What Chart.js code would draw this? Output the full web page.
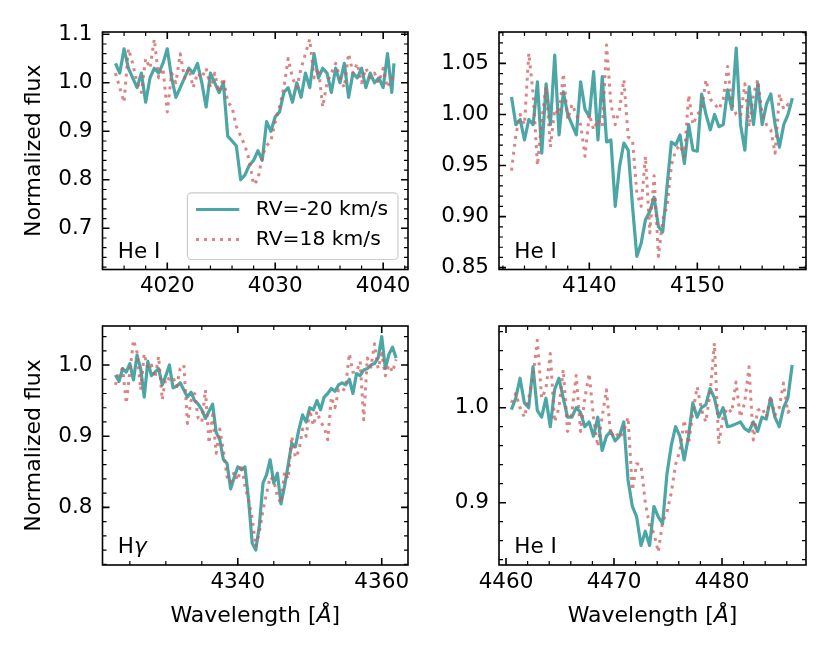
<!DOCTYPE html>
<html>
<head>
<meta charset="utf-8">
<title>He I / Hgamma line profiles</title>
<script src="https://cdn.jsdelivr.net/npm/chart.js@4.4.0/dist/chart.umd.min.js"></script>
<style>
  html, body { margin: 0; padding: 0; background: #fff; }
  #wrap { position: relative; width: 830px; height: 664px; }
  #wrap canvas { position: absolute; left: 0; top: 0; pointer-events: none; }
</style>
</head>
<body>
<div id="wrap">
  <canvas id="p1" width="830" height="664"></canvas>
  <canvas id="p2" width="830" height="664"></canvas>
  <canvas id="p3" width="830" height="664"></canvas>
  <canvas id="p4" width="830" height="664"></canvas>
</div>
<script>
// series labels
const labelBlue = 'RV=-20 km/s';
const labelRed = 'RV=18 km/s';

// ---- He I 4026
const wave1 = [4015.2, 4015.6, 4016.0, 4016.4, 4016.8, 4017.2, 4017.6, 4018.0, 4018.4, 4018.8,
  4019.2, 4019.6, 4020.0, 4020.4, 4020.8, 4021.2, 4021.6, 4022.0, 4022.4, 4022.8,
  4023.2, 4023.6, 4024.0, 4024.4, 4024.8, 4025.2, 4025.6, 4026.0, 4026.4, 4026.8,
  4027.2, 4027.6, 4028.0, 4028.4, 4028.8, 4029.2, 4029.6, 4030.0, 4030.4, 4030.8,
  4031.2, 4031.6, 4032.0, 4032.4, 4032.8, 4033.2, 4033.6, 4034.0, 4034.4, 4034.8,
  4035.2, 4035.6, 4036.0, 4036.4, 4036.8, 4037.2, 4037.6, 4038.0, 4038.4, 4038.8,
  4039.2, 4039.6, 4040.0, 4040.4, 4040.8, 4041.0];
const blue1 = [1.04, 1.02, 1.07, 1.03, 1.01, 0.99, 1.02, 0.96, 1.01, 1.03,
  1.02, 1.04, 1.07, 1.01, 0.97, 0.99, 1.01, 1.03, 1.02, 1.04,
  1.00, 0.95, 1.02, 1.00, 0.98, 1.00, 0.89, 0.88, 0.87, 0.80,
  0.81, 0.83, 0.84, 0.86, 0.84, 0.92, 0.90, 0.93, 0.94, 0.98,
  0.99, 0.96, 1.00, 0.97, 1.02, 0.99, 1.06, 1.01, 1.03, 1.02,
  0.98, 1.03, 1.00, 1.04, 0.97, 1.02, 1.01, 1.03, 0.99, 1.02,
  1.00, 1.01, 0.99, 1.06, 0.98, 1.04];
const red1 = [1.02, 0.99, 0.96, 1.07, 1.04, 1.00, 0.98, 1.05, 1.03, 1.09,
  1.01, 1.03, 0.94, 1.02, 1.00, 1.06, 1.01, 1.03, 0.99, 1.02,
  1.01, 1.03, 0.99, 1.02, 0.98, 1.01, 0.96, 0.95, 0.91, 0.89,
  0.87, 0.84, 0.79, 0.80, 0.85, 0.87, 0.88, 0.92, 0.95, 0.99,
  1.05, 1.01, 0.99, 1.03, 1.06, 1.09, 1.01, 1.03, 0.95, 1.00,
  1.02, 1.04, 1.01, 0.99, 1.06, 1.02, 1.04, 1.00, 1.03, 1.01,
  1.02, 1.00, 1.03, 0.99, 1.01, 1.00];
const xTicks1 = [4020, 4030, 4040];
const yTicks1 = [0.7, 0.8, 0.9, 1.0, 1.1];

// ---- He I 4144
const wave2 = [4132.8, 4133.2, 4133.6, 4134.0, 4134.4, 4134.8, 4135.2, 4135.6, 4136.0, 4136.4,
  4136.8, 4137.2, 4137.6, 4138.0, 4138.4, 4138.8, 4139.2, 4139.6, 4140.0, 4140.4,
  4140.8, 4141.2, 4141.6, 4142.0, 4142.4, 4142.8, 4143.2, 4143.6, 4144.0, 4144.4,
  4144.8, 4145.2, 4145.6, 4146.0, 4146.4, 4146.8, 4147.2, 4147.6, 4148.0, 4148.4,
  4148.8, 4149.2, 4149.6, 4150.0, 4150.4, 4150.8, 4151.2, 4151.6, 4152.0, 4152.4,
  4152.8, 4153.2, 4153.6, 4154.0, 4154.4, 4154.8, 4155.2, 4155.6, 4156.0, 4156.4,
  4156.8, 4157.2, 4157.6, 4158.0, 4158.4, 4158.8];
const blue2 = [1.017, 0.99, 0.995, 0.975, 0.995, 0.99, 1.032, 0.962, 1.03, 0.99,
  1.058, 0.98, 1.022, 1.0, 0.99, 0.98, 1.032, 1.005, 0.998, 1.042,
  0.975, 1.037, 0.973, 0.975, 0.91, 0.949, 0.972, 0.965, 0.91, 0.861,
  0.874, 0.897, 0.905, 0.919, 0.89, 0.885, 0.93, 0.973, 0.97, 0.98,
  0.952, 0.99, 0.965, 0.964, 1.02, 1.0, 0.985, 1.0, 0.988, 0.99,
  1.024, 1.005, 1.065, 0.99, 0.965, 1.027, 0.99, 1.03, 0.99, 1.01,
  1.02, 0.99, 0.968, 0.99, 1.0, 1.016];
const red2 = [0.945, 0.98, 1.0, 0.99, 1.06, 1.02, 0.95, 0.995, 1.027, 0.968,
  1.005, 1.0, 1.04, 0.995, 1.01, 1.0, 0.99, 0.959, 1.0, 0.985,
  0.995, 0.988, 1.068, 1.01, 0.99, 1.005, 1.034, 0.978, 0.975, 0.923,
  0.91, 0.959, 0.884, 0.94, 0.861, 0.897, 0.91, 0.95, 0.965, 0.97,
  0.959, 1.019, 0.99, 1.0, 1.005, 1.034, 1.015, 1.01, 1.005, 1.015,
  1.047, 1.01, 1.0, 0.998, 1.03, 0.988, 1.02, 1.034, 1.0, 0.99,
  0.985, 0.962, 1.02, 1.005, 1.01, 1.01];
const xTicks2 = [4140, 4150];
const yTicks2 = [0.85, 0.90, 0.95, 1.00, 1.05];

// ---- H gamma
const wave3 = [4323.0, 4323.5, 4324.0, 4324.5, 4325.0, 4325.5, 4326.0, 4326.5, 4327.0, 4327.5,
  4328.0, 4328.5, 4329.0, 4329.5, 4330.0, 4330.5, 4331.0, 4331.5, 4332.0, 4332.5,
  4333.0, 4333.5, 4334.0, 4334.5, 4335.0, 4335.5, 4336.0, 4336.5, 4337.0, 4337.5,
  4338.0, 4338.5, 4339.0, 4339.5, 4340.0, 4340.5, 4341.0, 4341.5, 4342.0, 4342.5,
  4343.0, 4343.5, 4344.0, 4344.5, 4345.0, 4345.5, 4346.0, 4346.5, 4347.0, 4347.5,
  4348.0, 4348.5, 4349.0, 4349.5, 4350.0, 4350.5, 4351.0, 4351.5, 4352.0, 4352.5,
  4353.0, 4353.5, 4354.0, 4354.5, 4355.0, 4355.5, 4356.0, 4356.5, 4357.0, 4357.5,
  4358.0, 4358.5, 4359.0, 4359.5, 4360.0, 4360.5, 4361.0, 4361.5, 4362.0];
const blue3 = [0.986, 0.977, 0.995, 0.99, 1.002, 0.979, 1.014, 0.995, 0.955, 1.005,
  0.985, 0.99, 0.995, 0.972, 0.985, 1.0, 0.968, 0.97, 0.975, 0.965,
  0.955, 0.962, 0.95, 0.945, 0.937, 0.925, 0.935, 0.945, 0.905, 0.895,
  0.867, 0.862, 0.826, 0.842, 0.857, 0.853, 0.857, 0.81, 0.75, 0.74,
  0.775, 0.834, 0.846, 0.867, 0.834, 0.848, 0.805, 0.83, 0.86, 0.89,
  0.885, 0.91, 0.93, 0.92, 0.94, 0.937, 0.95, 0.937, 0.955, 0.96,
  0.967, 0.963, 0.972, 0.975, 0.972, 0.98, 0.96, 0.988, 0.985, 0.993,
  0.995, 1.0, 1.002, 1.01, 1.04, 0.995, 1.015, 1.025, 1.01];
const red3 = [0.972, 0.99, 0.995, 0.946, 0.99, 1.035, 1.018, 0.965, 1.016, 0.995,
  1.0, 0.982, 1.012, 0.951, 0.983, 0.98, 0.983, 0.97, 0.995, 1.0,
  0.918, 0.95, 0.96, 0.925, 0.92, 0.965, 0.89, 0.93, 0.876, 0.91,
  0.88, 0.843, 0.835, 0.85, 0.838, 0.86, 0.83, 0.81, 0.785, 0.745,
  0.765, 0.796, 0.82, 0.843, 0.838, 0.815, 0.806, 0.85, 0.84, 0.9,
  0.87, 0.88, 0.91, 0.9, 0.937, 0.915, 0.935, 0.92, 0.913, 0.895,
  0.955, 0.94, 0.965, 0.962, 0.97, 1.016, 0.99, 0.99, 1.005, 0.923,
  1.01, 0.997, 1.03, 0.995, 1.016, 0.985, 1.0, 0.99, 1.008];
const xTicks3 = [4340, 4360];
const yTicks3 = [0.8, 0.9, 1.0];

// ---- He I 4471
const wave4 = [4460.5, 4460.9, 4461.3, 4461.7, 4462.1, 4462.5, 4462.9, 4463.3, 4463.7, 4464.1,
  4464.5, 4464.9, 4465.3, 4465.7, 4466.1, 4466.5, 4466.9, 4467.3, 4467.7, 4468.1,
  4468.5, 4468.9, 4469.3, 4469.7, 4470.1, 4470.5, 4470.9, 4471.3, 4471.7, 4472.1,
  4472.5, 4472.9, 4473.3, 4473.7, 4474.1, 4474.5, 4474.9, 4475.3, 4475.7, 4476.1,
  4476.5, 4476.9, 4477.3, 4477.7, 4478.1, 4478.5, 4478.9, 4479.3, 4479.7, 4480.1,
  4480.5, 4480.9, 4481.3, 4481.7, 4482.1, 4482.5, 4482.9, 4483.3, 4483.7, 4484.1,
  4484.5, 4484.9, 4485.3, 4485.7, 4486.1, 4486.5];
const blue4 = [0.998, 1.01, 1.031, 1.005, 1.0, 1.043, 0.997, 0.99, 1.01, 0.98,
  1.019, 1.031, 1.01, 0.99, 0.99, 1.0, 0.995, 0.98, 0.985, 0.97,
  0.99, 0.955, 0.97, 0.975, 0.965, 0.97, 0.985, 0.924, 0.896, 0.885,
  0.855, 0.87, 0.855, 0.896, 0.885, 0.878, 0.93, 0.96, 0.98, 0.97,
  0.945, 0.97, 1.005, 0.99, 1.0, 1.003, 1.02, 1.01, 0.99, 1.0,
  0.98, 0.981, 0.983, 0.985, 0.978, 0.975, 0.985, 0.975, 0.99, 0.988,
  1.01, 0.99, 0.98, 1.0, 1.01, 1.045];
const red4 = [1.005, 1.015, 1.0, 0.99, 1.01, 1.033, 1.071, 1.01, 1.02, 1.057,
  0.985, 1.0, 1.04, 0.975, 0.995, 1.034, 0.975, 1.01, 1.036, 0.99,
  0.959, 0.99, 1.019, 0.97, 0.975, 0.968, 0.975, 0.99, 0.913, 0.941,
  0.94, 0.9, 0.875, 0.868, 0.848, 0.88, 0.89, 0.91, 0.94, 0.955,
  0.987, 0.962, 0.995, 1.022, 0.998, 0.985, 1.015, 1.068, 0.962, 0.99,
  1.0, 0.995, 1.027, 0.99, 1.005, 1.043, 0.966, 0.997, 1.0, 0.99,
  1.012, 0.992, 1.0, 1.026, 0.995, 1.0];
const xTicks4 = [4460, 4470, 4480];
const yTicks4 = [0.9, 1.0];

const FONT = '"DejaVu Sans", "Liberation Sans", sans-serif';
const BLUE = 'rgba(0, 128, 128, 0.7)';
const RED = 'rgba(205, 92, 92, 0.75)';
const DOTS = [3, 5];

// draw a run of text pieces (some italic) starting at x
function drawParts(ctx, parts, x, y, align, size) {
  const fontOf = p => (p.it ? 'italic ' : '') + size + 'px ' + FONT;
  const widths = parts.map(p => {
    ctx.font = fontOf(p);
    return ctx.measureText(p.t).width;
  });
  const total = widths.reduce((a, b) => a + b, 0);
  let cx = align === 'center' ? x - total / 2 : x;
  ctx.textAlign = 'left';
  parts.forEach((p, i) => {
    ctx.font = fontOf(p);
    ctx.fillText(p.t, cx, y);
    cx += widths[i];
  });
}

function minorValues(min, max, step, majors) {
  const out = [];
  for (let k = Math.ceil(min / step - 1e-9); k <= Math.floor(max / step + 1e-9); k++) {
    const v = k * step;
    if (!majors.some(m => Math.abs(m - v) < step / 10)) out.push(v);
  }
  return out;
}

// matplotlib-like frame: inward ticks on all sides, labels, tag, titles, legend
const axesFrame = {
  id: 'axesFrame',
  afterDraw(chart, args, o) {
    const ctx = chart.ctx;
    const { left, right, top, bottom } = chart.chartArea;
    const xs = chart.scales.x, ys = chart.scales.y;
    const xMaj = xs.ticks.map(t => t.value);
    const yMaj = ys.ticks.map(t => t.value);
    ctx.save();
    ctx.strokeStyle = '#000';
    ctx.fillStyle = '#000';

    // minor ticks
    ctx.lineWidth = 1.2;
    ctx.beginPath();
    minorValues(xs.min, xs.max, o.xMinor, xMaj).forEach(v => {
      const p = xs.getPixelForValue(v);
      ctx.moveTo(p, bottom); ctx.lineTo(p, bottom - 4);
      ctx.moveTo(p, top); ctx.lineTo(p, top + 4);
    });
    minorValues(ys.min, ys.max, o.yMinor, yMaj).forEach(v => {
      const p = ys.getPixelForValue(v);
      ctx.moveTo(left, p); ctx.lineTo(left + 4, p);
      ctx.moveTo(right, p); ctx.lineTo(right - 4, p);
    });
    ctx.stroke();

    // major ticks
    ctx.lineWidth = 1.6;
    ctx.beginPath();
    xMaj.forEach(v => {
      const p = xs.getPixelForValue(v);
      ctx.moveTo(p, bottom); ctx.lineTo(p, bottom - 7);
      ctx.moveTo(p, top); ctx.lineTo(p, top + 7);
    });
    yMaj.forEach(v => {
      const p = ys.getPixelForValue(v);
      ctx.moveTo(left, p); ctx.lineTo(left + 7, p);
      ctx.moveTo(right, p); ctx.lineTo(right - 7, p);
    });
    ctx.stroke();

    // spines
    ctx.strokeRect(left, top, right - left, bottom - top);

    // tick labels
    ctx.font = '21.5px ' + FONT;
    ctx.textBaseline = 'middle';
    ctx.textAlign = 'center';
    xMaj.forEach(v => ctx.fillText(String(v), xs.getPixelForValue(v), bottom + 17));
    ctx.textAlign = 'right';
    yMaj.forEach(v => ctx.fillText(v.toFixed(o.yDigits), left - 10, ys.getPixelForValue(v)));

    // line tag in the lower left corner
    ctx.textBaseline = 'alphabetic';
    drawParts(ctx, o.tag, left + 0.05 * (right - left), bottom - 0.05 * (bottom - top), 'left', 21.5);

    // axis titles
    ctx.textBaseline = 'middle';
    if (o.xTitle) {
      drawParts(ctx, [{ t: 'Wavelength [' }, { t: 'Å', it: true }, { t: ']' }],
        (left + right) / 2, 616, 'center', 22);
    }
    if (o.yTitle) {
      ctx.save();
      ctx.translate(34, (top + bottom) / 2);
      ctx.rotate(-Math.PI / 2);
      drawParts(ctx, [{ t: 'Normalized flux' }], 0, 0, 'center', 22);
      ctx.restore();
    }

    // legend box
    if (o.legend) {
      const w = 210.6, h = 66.6;
      const bx = right - 10 - w, by = bottom - 10 - h;
      ctx.beginPath();
      ctx.roundRect(bx, by, w, h, 4);
      ctx.fillStyle = 'rgba(255,255,255,0.8)';
      ctx.fill();
      ctx.strokeStyle = '#cccccc';
      ctx.lineWidth = 1.2;
      ctx.stroke();
      chart.data.datasets.slice().reverse().forEach((ds, i) => {
        const yy = by + 16.6 + i * 30;
        ctx.beginPath();
        ctx.strokeStyle = ds.borderColor;
        ctx.lineWidth = ds.borderWidth;
        ctx.setLineDash(ds.borderDash || []);
        ctx.lineCap = 'butt';
        ctx.moveTo(bx + 8.6, yy); ctx.lineTo(bx + 51.9, yy);
        ctx.stroke();
        ctx.setLineDash([]);
        ctx.fillStyle = '#000';
        ctx.font = '20.3px ' + FONT;
        ctx.textAlign = 'left';
        ctx.textBaseline = 'middle';
        ctx.fillText(ds.label, bx + 68.3, yy);
      });
    }
    ctx.restore();
  }
};

function makePanel(id, box, wave, blue, red, xr, yr, xTicks, yTicks, frame) {
  const pts = arr => arr.map((v, i) => ({ x: wave[i], y: v }));
  return new Chart(document.getElementById(id), {
    type: 'line',
    data: {
      datasets: [
        { label: labelRed, data: pts(red), borderColor: RED, borderWidth: 3,
          borderDash: DOTS, borderJoinStyle: 'round', pointRadius: 0, tension: 0,
          fill: false, order: 1 },
        { label: labelBlue, data: pts(blue), borderColor: BLUE, borderWidth: 3.2,
          borderJoinStyle: 'round', pointRadius: 0, tension: 0, fill: false, order: 2 }
      ]
    },
    options: {
      responsive: false,
      animation: false,
      events: [],
      layout: { padding: { left: box[0], top: box[1], right: 830 - box[2], bottom: 664 - box[3] } },
      scales: {
        x: { type: 'linear', min: xr[0], max: xr[1], display: false,
             afterBuildTicks: s => { s.ticks = xTicks.map(v => ({ value: v })); } },
        y: { type: 'linear', min: yr[0], max: yr[1], display: false,
             afterBuildTicks: s => { s.ticks = yTicks.map(v => ({ value: v })); } }
      },
      plugins: {
        legend: { display: false },
        tooltip: { enabled: false },
        axesFrame: frame
      }
    },
    plugins: [axesFrame]
  });
}

makePanel('p1', [102.5, 32, 408, 269.5], wave1, blue1, red1,
  [4014.0, 4042.3], [0.615, 1.1047], xTicks1, yTicks1,
  { xMinor: 2, yMinor: 0.02, yDigits: 1, tag: [{ t: 'He I' }], yTitle: true, legend: true });
makePanel('p2', [499, 32, 806, 269.5], wave2, blue2, red2,
  [4131.64, 4160.06], [0.8482, 1.0807], xTicks2, yTicks2,
  { xMinor: 2, yMinor: 0.01, yDigits: 2, tag: [{ t: 'He I' }] });
makePanel('p3', [102.5, 326, 408, 565], wave3, blue3, red3,
  [4321.2, 4363.65], [0.7191, 1.0548], xTicks3, yTicks3,
  { xMinor: 5, yMinor: 0.02, yDigits: 1, tag: [{ t: 'H' }, { t: 'γ', it: true }], yTitle: true, xTitle: true });
makePanel('p4', [499, 326, 806, 565], wave4, blue4, red4,
  [4459.35, 4487.78], [0.8344, 1.086], xTicks4, yTicks4,
  { xMinor: 2, yMinor: 0.02, yDigits: 1, tag: [{ t: 'He I' }], xTitle: true });
</script>
</body>
</html>
